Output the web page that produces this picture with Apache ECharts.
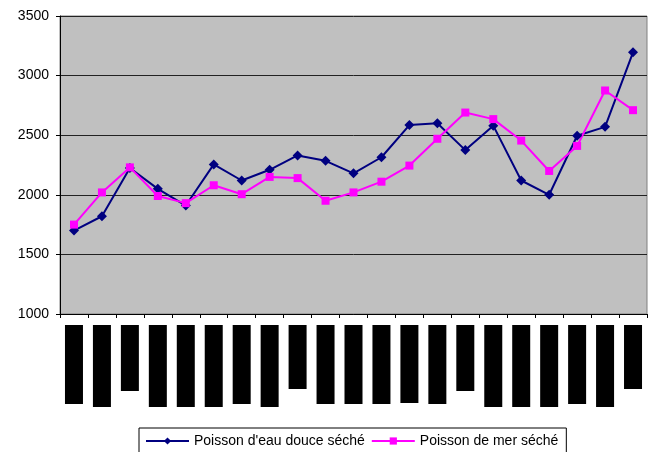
<!DOCTYPE html>
<html>
<head>
<meta charset="utf-8">
<script src="https://cdn.jsdelivr.net/npm/echarts@6/dist/echarts.min.js"></script>
<style>
  html, body { margin: 0; padding: 0; background: #fff; }
  #chart { width: 655px; height: 452px; }
</style>
</head>
<body>
<div id="chart"></div>
<script>
// categories (labels are masked by black blocks in the original)
var categories = ['1', '2', '3', '4', '5', '6', '7', '8', '9', '10', '11',
                  '12', '13', '14', '15', '16', '17', '18', '19', '20', '21'];
var eauDouce = [1700, 1820, 2225, 2050, 1910, 2255, 2120, 2210, 2330, 2285, 2180,
                2315, 2585, 2600, 2375, 2580, 2120, 2000, 2495, 2570, 3195];
var mer = [1750, 2020, 2230, 1990, 1930, 2080, 2005, 2150, 2140, 1950, 2020,
           2110, 2245, 2470, 2690, 2635, 2455, 2200, 2410, 2875, 2710];
// length of the black label blocks under the axis
var labelBlocks = [79, 82, 66, 82, 82, 82, 79, 82, 64, 79, 79,
                   79, 78, 79, 66, 82, 82, 82, 79, 82, 64];
var yTicks = { min: 1000, max: 3500, interval: 500 };

var myChart = echarts.init(document.getElementById('chart'));
myChart.setOption({
  animation: false,
  textStyle: { fontFamily: 'Liberation Sans, Arial, sans-serif' },
  legend: {
    data: ["Poisson d'eau douce séché", 'Poisson de mer séché'],
    left: 139,
    top: 428,
    padding: [6, 8, 8, 6],
    borderColor: '#000',
    borderWidth: 1,
    itemWidth: 43,
    itemHeight: 9,
    itemGap: 6,
    textStyle: { fontSize: 14, color: '#000' }
  },
  grid: [
    {
      left: 60, right: 8, top: 16, height: 298,
      show: true, backgroundColor: '#C0C0C0', borderColor: '#808080', borderWidth: 1
    },
    { left: 60, right: 8, top: 325, height: 82 }
  ],
  xAxis: [
    {
      type: 'category',
      gridIndex: 0,
      data: categories,
      boundaryGap: true,
      axisLine: { lineStyle: { color: '#000', width: 1 } },
      axisTick: { show: true, length: 4, alignWithLabel: false, lineStyle: { color: '#000' } },
      axisLabel: { show: false }
    },
    {
      type: 'category',
      gridIndex: 1,
      data: categories,
      show: false
    }
  ],
  yAxis: [
    {
      type: 'value',
      gridIndex: 0,
      min: yTicks.min,
      max: yTicks.max,
      interval: yTicks.interval,
      axisLine: { show: true, lineStyle: { color: '#000', width: 1 } },
      axisTick: { show: true, length: 4, lineStyle: { color: '#000' } },
      axisLabel: { fontSize: 14, color: '#000', margin: 11, formatter: function (v) { return String(v); } },
      splitLine: { lineStyle: { color: '#222', width: 1 } }
    },
    {
      type: 'value',
      gridIndex: 1,
      min: 0,
      max: 82,
      inverse: true,
      show: false
    }
  ],
  series: [
    {
      name: "Poisson d'eau douce séché",
      type: 'line',
      data: eauDouce,
      symbol: 'diamond',
      symbolSize: 10,
      lineStyle: { color: '#000080', width: 2 },
      itemStyle: { color: '#000080' }
    },
    {
      name: 'Poisson de mer séché',
      type: 'line',
      data: mer,
      symbol: 'rect',
      symbolSize: 8,
      lineStyle: { color: '#FF00FF', width: 2 },
      itemStyle: { color: '#FF00FF' }
    },
    {
      type: 'bar',
      xAxisIndex: 1,
      yAxisIndex: 1,
      data: labelBlocks,
      barWidth: 18,
      itemStyle: { color: '#000' },
      silent: true
    }
  ]
});
</script>
</body>
</html>
